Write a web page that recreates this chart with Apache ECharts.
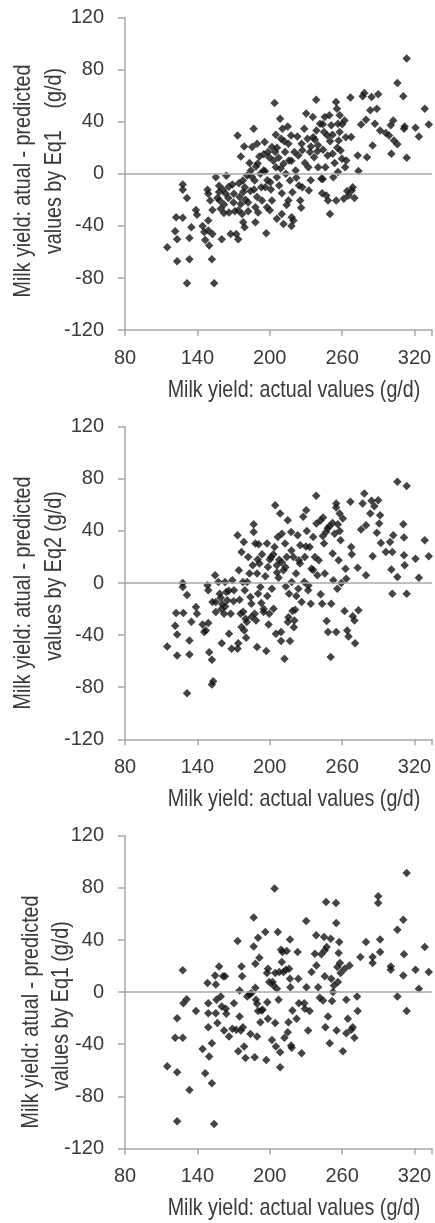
<!DOCTYPE html>
<html>
<head>
<meta charset="utf-8">
<script src="https://cdn.jsdelivr.net/npm/echarts@6/dist/echarts.min.js"></script>
<style>
html,body{margin:0;padding:0;background:#fff;}
#c{width:435px;height:1223px;}
</style>
</head>
<body>
<div id="c"></div>
<script>
// Tick labels / axis ranges
const xTicks = [80, 140, 200, 260, 320];
const yTicks = [-120, -80, -40, 0, 40, 80, 120];
const xTitle = 'Milk yield: actual values (g/d)';
const yTitleLine1 = 'Milk yield: atual - predicted';
const yTitleLine2 = ['values by Eq1    (g/d)', 'values by Eq2 (g/d)', 'values by Eq1 (g/d)'];

// Panel 1: [actual, actual - predicted by Eq1]
const panel1Points = [
[115,-56.4],[122.4,-33.3],[121.6,-44.1],[123.2,-50.3],[123.2,-67.2],[127.9,-8.2],[127.9,-12.3],[127.9,-33.8],[131.4,-18.5],[131.4,-84.1],
[133.4,-49.2],[133.4,-65.6],[135,-41],[138.8,-27.7],[139.7,-31.5],[144.3,-40],[145.7,-44.6],[146.5,-50.8],[148.4,-12.3],[149,-15.4],
[149,-35.9],[149,-43.6],[149.8,-55.1],[150.6,-20.5],[152.5,-46.2],[152,-65.6],[153.9,-84.1],[152.5,-27.7],[155.3,-2.6],[156.6,-18.5],
[158,-9.2],[158.5,-20.5],[159.4,-26.9],[160.2,-50.3],[161.3,-12.3],[162.1,-23.6],[163.5,-15.4],[164,-1.5],[165.7,-18.5],[166.2,-29.7],
[167.6,-46.2],[169,-8.2],[170.3,-15.4],[171.1,-28.7],[172.2,-46.2],[173.3,29.5],[173.9,-50.3],[174.4,-7.2],[175,-17.9],[176,13.3],
[176,-23.1],[177.1,-30.8],[177.7,-5.1],[178,-37.2],[178.8,21],[179.1,-41],[179.3,-10.3],[179.9,-20],[181.3,-1.3],[182.1,-28.7],
[183.2,8.2],[184,-13.3],[184.3,2.6],[185.4,20.5],[186.7,34.6],[187.5,-5.1],[188.1,-25.6],[188.1,-37.2],[188.6,5.6],[189.5,23.1],
[189.5,-17.9],[190.3,-29.7],[191.4,13.3],[192.2,0],[193,-10.3],[193.6,-20.5],[194.9,2.6],[195.8,24.4],[196.3,-10.3],[197.1,-45.6],
[197.7,-25.6],[198.5,16.7],[199.6,12.8],[200.4,-6.4],[201.8,20.5],[201.8,-20.5],[204,54.4],[204.5,16.7],[205.1,5.1],[205.9,-2.6],
[205.9,-34.6],[207.3,12.3],[207.8,-9],[208.6,42.3],[209.4,26.9],[210,-30.8],[210.5,34.6],[211.4,7.7],[211.4,-38.5],[212.7,16.7],
[213.3,0],[214.9,36.4],[215.5,23.1],[215.5,-20.5],[216,10.3],[216.8,-5.1],[217.7,29.5],[218.2,-33.3],[218.8,-14.1],[219.6,-35.9],
[220.4,16.7],[221.5,2.6],[222.9,28.7],[223.7,14.1],[224.2,-9],[225.3,-20.5],[226.4,23.1],[227,-10.3],[228.6,34.6],[229.1,8.2],
[230.2,46.2],[231.3,26.9],[232.4,-12.8],[233.3,16.7],[234.1,21],[235.7,43.6],[236.8,12.8],[237.4,26.2],[238.5,56.9],[238.7,33.3],
[239.5,17.4],[240.1,5.1],[241.7,38.5],[242.8,-3.8],[243.4,-14.9],[244.2,18.5],[245,32.1],[245.6,43.6],[246.1,5.1],[246.9,-16.7],
[247.8,29.5],[248.3,-20.5],[249.4,44.9],[249.9,-30.8],[251,37.2],[252.1,15.4],[252.7,-2.6],[253.8,8.2],[254.9,55.1],[255.1,-20.5],
[255.7,50],[256.5,38.5],[256.5,1.3],[257.1,25.6],[257.9,32.1],[258.7,17.9],[259.8,11.5],[261.4,-19.2],[262,41],[262.5,5.1],
[263.4,10.3],[264.2,-13.3],[265.3,-16.7],[266.9,58.5],[267.5,28.2],[268,-12.8],[268.8,-10.3],[270.2,-18.5],[272.9,14.1],[273.5,2.1],
[275.7,37.9],[277,59.5],[278.4,62.1],[279.8,41.5],[280.6,12.8],[283.3,48.7],[284.4,59],[285.3,21.8],[287.2,38.5],[288.8,50],
[289.9,61],[291.5,33.3],[296.2,31.3],[298.9,29.5],[300.3,37.2],[300.8,15.4],[302.4,41],[303,25.6],[305.8,69.7],[305.8,22.6],
[310.7,59.5],[311.3,34.6],[311.8,36.4],[313.5,88.5],[313.5,12.3],[320.8,35.4],[323.6,28.7],[328.5,50],[331.8,37.9],
[185,-2],[190,8],[195,15],[198,-5],[203,10],[206,20],[210,-15],[212,25],[218,10],[222,-3],[227,18],[232,5],[236,28],[240,22],
[244,38],[248,14],[252,30],[256,20],[260,38],[187,-12],[182,-22],[178,-14],[174,-28],[170,-22],[166,-10],[162,-30],[158,-14],
[200,-28],[205,30],[214,-24],[218,-40],[226,-26],[234,-5],[244,-4],[250,25],[258,45],[263,28],[196,2],[201,-12],[209,4]
];

// Panel 2: [actual, actual - predicted by Eq2]
const panel2Points = [
[115,-48.7],[121.6,-32.8],[123.2,-39.5],[123.2,-55.6],[122.4,-23.1],[127.9,0],[127.9,-3.1],[128.4,-23.1],[131.4,-9.2],[131.4,-84.6],
[133.4,-44.1],[133.4,-54.9],[135,-29.7],[138.8,-18.5],[139.7,-23.6],[144.3,-31.8],[145.7,-37.7],[147,-36.4],[148.4,-1.8],[149,-5.6],
[149,-30.8],[149.8,-53.1],[152,-59],[152,-77.9],[153.1,-75.4],[152.5,-14.6],[154.7,5.9],[155.3,-14.6],[155.3,-22.3],[157.4,0.8],
[158.5,-8.2],[159.4,-11.3],[160.2,-46.2],[160.7,-16.4],[162.1,-23.6],[162.9,0.8],[164,-6.9],[164.8,-13.3],[166.2,-39],[167.6,-23.6],
[168.4,-50.5],[169,2.1],[170.3,-5.6],[173.3,-50.5],[173.3,36.7],[173.9,-46.2],[174.4,9.7],[175,-12.8],[175.8,-23.6],[176.6,23.8],
[176.6,-33.8],[177.7,0.8],[178.5,31.5],[178.8,-36.4],[179.3,-5.6],[179.9,-27.4],[180.4,-42.1],[181.3,0.8],[182.1,20],[183.2,7.2],
[184,-10.8],[184.8,-15.9],[185.9,13.6],[186.7,45.1],[186.7,39.2],[187.5,-23.6],[188.1,30.3],[188.6,-28.7],[189.5,-49.2],[189.5,7.2],
[190.3,-8.2],[190.8,29.7],[191.4,14.9],[192.2,-3.1],[193,-15.4],[193.6,22.1],[194.9,-22.3],[196.3,5.1],[197.1,-52.3],[197.7,30.3],
[198.5,12.3],[199,-31.8],[199.6,-23.6],[201.2,20],[201.8,-4.4],[203.1,-19.7],[204,27.7],[204.5,59.7],[205.1,-39],[205.9,13.6],
[206.7,35.4],[207.3,4.1],[207.8,17.9],[208.6,53.3],[209.4,-37.7],[209.4,-44.6],[210,37.9],[211.4,9.7],[212.2,-58.2],[212.7,30.3],
[213.3,-2.6],[214.1,20],[214.9,48.2],[215.5,-26.2],[216,-8.2],[216.8,-44.6],[217.7,39.2],[218.2,0.8],[218.8,-21.5],[219.6,20],
[220.4,-28.7],[221,-20.5],[221.8,7.2],[223.1,36.7],[223.7,-4.4],[224.2,17.4],[225.3,29],[226.4,-14.6],[227.7,50.8],[228.6,0.8],
[229.1,20],[230.2,55.9],[230.7,40],[231.8,-5.6],[233.1,27.7],[234,-15.9],[234.6,11],[236,35.4],[237.4,20],[238.5,66.9],
[238.7,45.6],[239.5,5.9],[240.6,17.4],[242.2,-8.7],[243.4,-15.9],[244.2,50.3],[245,30.3],[245.6,7.2],[246.7,39.2],[247.2,-29.2],
[248.3,-37.7],[249.4,43.6],[250.5,-56.9],[251,-15.9],[252.1,22.6],[252.7,2.1],[253.8,37.9],[255.1,61],[255.1,-37.7],[256,-4.4],
[256.5,45.1],[257.1,17.4],[257.9,53.3],[258.7,32.8],[259.3,0],[260.6,49.5],[262,-21.5],[262.8,11],[263.4,3.3],[264.2,-36.4],
[265.3,-41],[266.9,62.3],[267.5,27.7],[268,22.1],[268.8,-25.6],[270.2,-28.7],[270.7,-46.2],[272.9,11.8],[273.5,-21],[275.7,41],
[277,61],[278.4,68.7],[279.8,44.4],[279.8,5.9],[283.3,53.3],[284.4,63.1],[285.3,20.5],[286.7,59],[288.8,38.5],[289.9,63.6],
[290.7,45.6],[291.5,52.1],[292.1,30.8],[296.2,23.8],[299.7,31.5],[300.8,10.3],[301.6,23.8],[301.6,-8.2],[302.4,36.7],[305.8,77.7],
[305.8,4.6],[310.7,45.1],[311.3,34.9],[311.3,21.3],[311.8,13.6],[313.5,74.4],[313.5,-8.2],[320.8,18.7],[323.6,4.1],[328.5,32.8],
[331.8,20.5],
[200,18],[203,22],[206,8],[210,16],[195,-20],[198,-10],[215,-30],[220,-34],[185,-26],[181,-30],[178,-22],[170,-14],[166,-6],
[163,-18],[160,-20],[225,15],[230,28],[236,10],[242,48],[248,42],[252,46],[255,58],[258,40],[190,18],[213,12],[218,25],[222,-10],
[232,-2],[244,36]
];

// Panel 3: [actual, actual - predicted by Eq1]
const panel3Points = [
[115,-56.9],[121.6,-35.1],[123.2,-61.5],[123.2,-99.2],[123.2,-20],[127.9,16.7],[127.9,-35.1],[128.4,-8.5],[131.1,-5.4],[133.4,-75.1],
[138.8,-14.6],[144.3,-43.6],[146.5,-62.3],[148.4,6.9],[149,-8.5],[149,-16.2],[149,-26.9],[149.8,-49.5],[152,-39.2],[152,-70],
[153.9,-101.3],[154.7,12.8],[155.3,5.9],[155.3,-16.2],[155.8,-5.9],[156.6,-23.8],[158,19.7],[159.4,-3.3],[160.2,-11],[161.3,12.1],
[162.1,-29.5],[162.9,12.1],[163.5,-12.8],[164,-16.7],[166.2,-34.1],[169,-28.2],[170.3,-8.5],[172.2,-29],[173.3,39.2],[173.9,-45.4],
[175,1.3],[175,-18.7],[176,-29.5],[176.6,19.7],[177.1,12.1],[177.7,-26.9],[178.8,-41.8],[179.9,-50.5],[181.3,-3.3],[183.2,-1.8],
[184,-32.1],[184.8,-0.8],[186.7,57.2],[186.7,35.1],[187.5,-50],[188.1,21.8],[188.1,3.3],[188.6,-5.9],[189.5,-9],[189.5,-34.1],
[190.3,-14.6],[190.3,41.8],[191.4,26.4],[192.2,-23.1],[193,-14.1],[194.1,-13.6],[196.3,46.2],[197.1,-52.1],[197.7,14.6],[198,-7.7],
[198.5,17.9],[198.5,-20.5],[199.6,7.7],[201.8,-36.7],[202.4,7.7],[203.1,5.1],[204,79.5],[204.5,14.6],[204.5,-23.8],[205.1,-41.8],
[205.9,2.6],[206.7,46.2],[207.3,-5.9],[207.8,15.4],[208.6,-57.7],[208.6,-46.2],[209.4,32.6],[210,23.1],[210.5,30.8],[211.4,15.4],
[212.2,-35.1],[213.3,17.2],[214.1,31.5],[214.9,-30.8],[215.5,-23.1],[216,17.9],[216.8,40.3],[216.8,10.3],[217.1,3.8],[217.7,-41],
[218.2,-42.8],[218.8,-14.1],[222.3,-20.5],[223.1,30.8],[223.7,10.3],[224.2,-8.5],[226.4,-46.9],[228.6,-8.5],[229.1,-12.8],[230.2,54.6],
[230.4,3.8],[231.8,-29.5],[233.1,-14.6],[234.6,15.4],[237.4,29.5],[238.5,43.6],[238.7,20.5],[240.1,3.8],[241.5,-4.4],[242.8,29],
[244.2,-6.4],[245,42.3],[245.6,32.1],[245.6,12.1],[246.1,-26.9],[246.7,69.2],[247.2,34.6],[248.3,-18.7],[249.7,-39.2],[250.5,41],
[251,10.3],[251.6,-6.9],[252.4,0],[253.2,5.1],[254.9,68.5],[255.1,53.1],[255.4,-29.5],[256,19.2],[256.5,7.7],[257.1,30],
[257.6,38.5],[258.2,22.3],[258.7,14.6],[260.6,-45.4],[262,17.9],[263.4,-5.9],[263.4,-31.5],[264.7,-20.5],[266.1,20.5],[267.5,-29],
[268.8,-26.9],[270.2,-35.1],[272.4,-3.3],[272.9,-14.6],[275.1,26.9],[279.8,38.5],[285.3,26.9],[285.3,22.3],[289.9,73.6],[289.9,68.5],
[291.5,40.3],[291.5,30.8],[300.3,19.7],[300.3,17.2],[305.8,47.9],[305.8,-3.3],[310.7,55.6],[310.7,12.8],[311.3,29],[313.5,91.5],
[313.5,-14.6],[320.8,17.2],[323.6,2.6],[328.5,34.6],[331.8,15.4]
];

const panels = [panel1Points, panel2Points, panel3Points];
const FONT = "'Liberation Sans',Arial,sans-serif";
const AXIS_COLOR = '#a8a8a8';
const TEXT_COLOR = '#3a3a3a';
const gridTops = [17.5, 426.7, 835.8];
const gridH = 312.6;
const NARROW = 0.82;

const chart = echarts.init(document.getElementById('c'), null, {renderer: 'canvas'});

const grid = [], xAxis = [], yAxis = [], series = [], graphic = [];
panels.forEach((pts, i) => {
  grid.push({left: 125, top: gridTops[i], width: 310, height: gridH, containLabel: false});
  xAxis.push({
    type: 'value', gridIndex: i, min: xTicks[0], max: 334.5, interval: 60,
    axisLine: {show: true, onZero: false, lineStyle: {color: AXIS_COLOR, width: 1.5}},
    axisTick: {show: true, length: 6, lineStyle: {color: AXIS_COLOR, width: 1.5}},
    axisLabel: {margin: 18, fontSize: 20, fontFamily: FONT, color: TEXT_COLOR,
      formatter: v => (xTicks.indexOf(v) >= 0 ? String(v) : '')},
    splitLine: {show: false}
  });
  yAxis.push({
    type: 'value', gridIndex: i, min: yTicks[0], max: yTicks[yTicks.length - 1], interval: 40,
    axisLine: {show: true, onZero: false, lineStyle: {color: AXIS_COLOR, width: 1.5}},
    axisTick: {show: true, length: 7, lineStyle: {color: AXIS_COLOR, width: 1.5}},
    axisLabel: {margin: 21, fontSize: 20, fontFamily: FONT, color: TEXT_COLOR},
    splitLine: {show: false}
  });
  series.push({
    type: 'scatter', xAxisIndex: i, yAxisIndex: i, data: pts,
    symbol: 'diamond', symbolSize: 8.5,
    itemStyle: {color: '#151515'},
    markLine: {
      silent: true, symbol: ['none', 'none'], label: {show: false},
      lineStyle: {color: AXIS_COLOR, width: 1.5, type: 'solid'},
      data: [{yAxis: 0}]
    }
  });
});

// axis titles
const off = [0, 409.15, 818.3];
const yTitleCfg = [
  {x1: 23.3, c1: 181, x2: 54.3, c2: 161},
  {x1: 23.3, c1: 593, x2: 54.3, c2: 576},
  {x1: 30.9, c1: 1012, x2: 60.9, c2: 1006}
];
yTitleCfg.forEach((c, i) => {
  graphic.push({type: 'text', x: c.x1, y: c.c1, rotation: Math.PI / 2, scaleX: NARROW,
    style: {text: yTitleLine1, font: '24px ' + FONT, fill: TEXT_COLOR, textAlign: 'center', textVerticalAlign: 'middle'}});
  graphic.push({type: 'text', x: c.x2, y: c.c2, rotation: Math.PI / 2, scaleX: NARROW,
    style: {text: yTitleLine2[i], font: '24px ' + FONT, fill: TEXT_COLOR, textAlign: 'center', textVerticalAlign: 'middle'}});
  graphic.push({type: 'text', x: 294, y: 390.5 + off[i], scaleX: NARROW,
    style: {text: xTitle, font: '24px ' + FONT, fill: TEXT_COLOR, textAlign: 'center', textVerticalAlign: 'middle'}});
});

chart.setOption({
  backgroundColor: '#ffffff',
  animation: false,
  grid, xAxis, yAxis, series, graphic
});
</script>
</body>
</html>
